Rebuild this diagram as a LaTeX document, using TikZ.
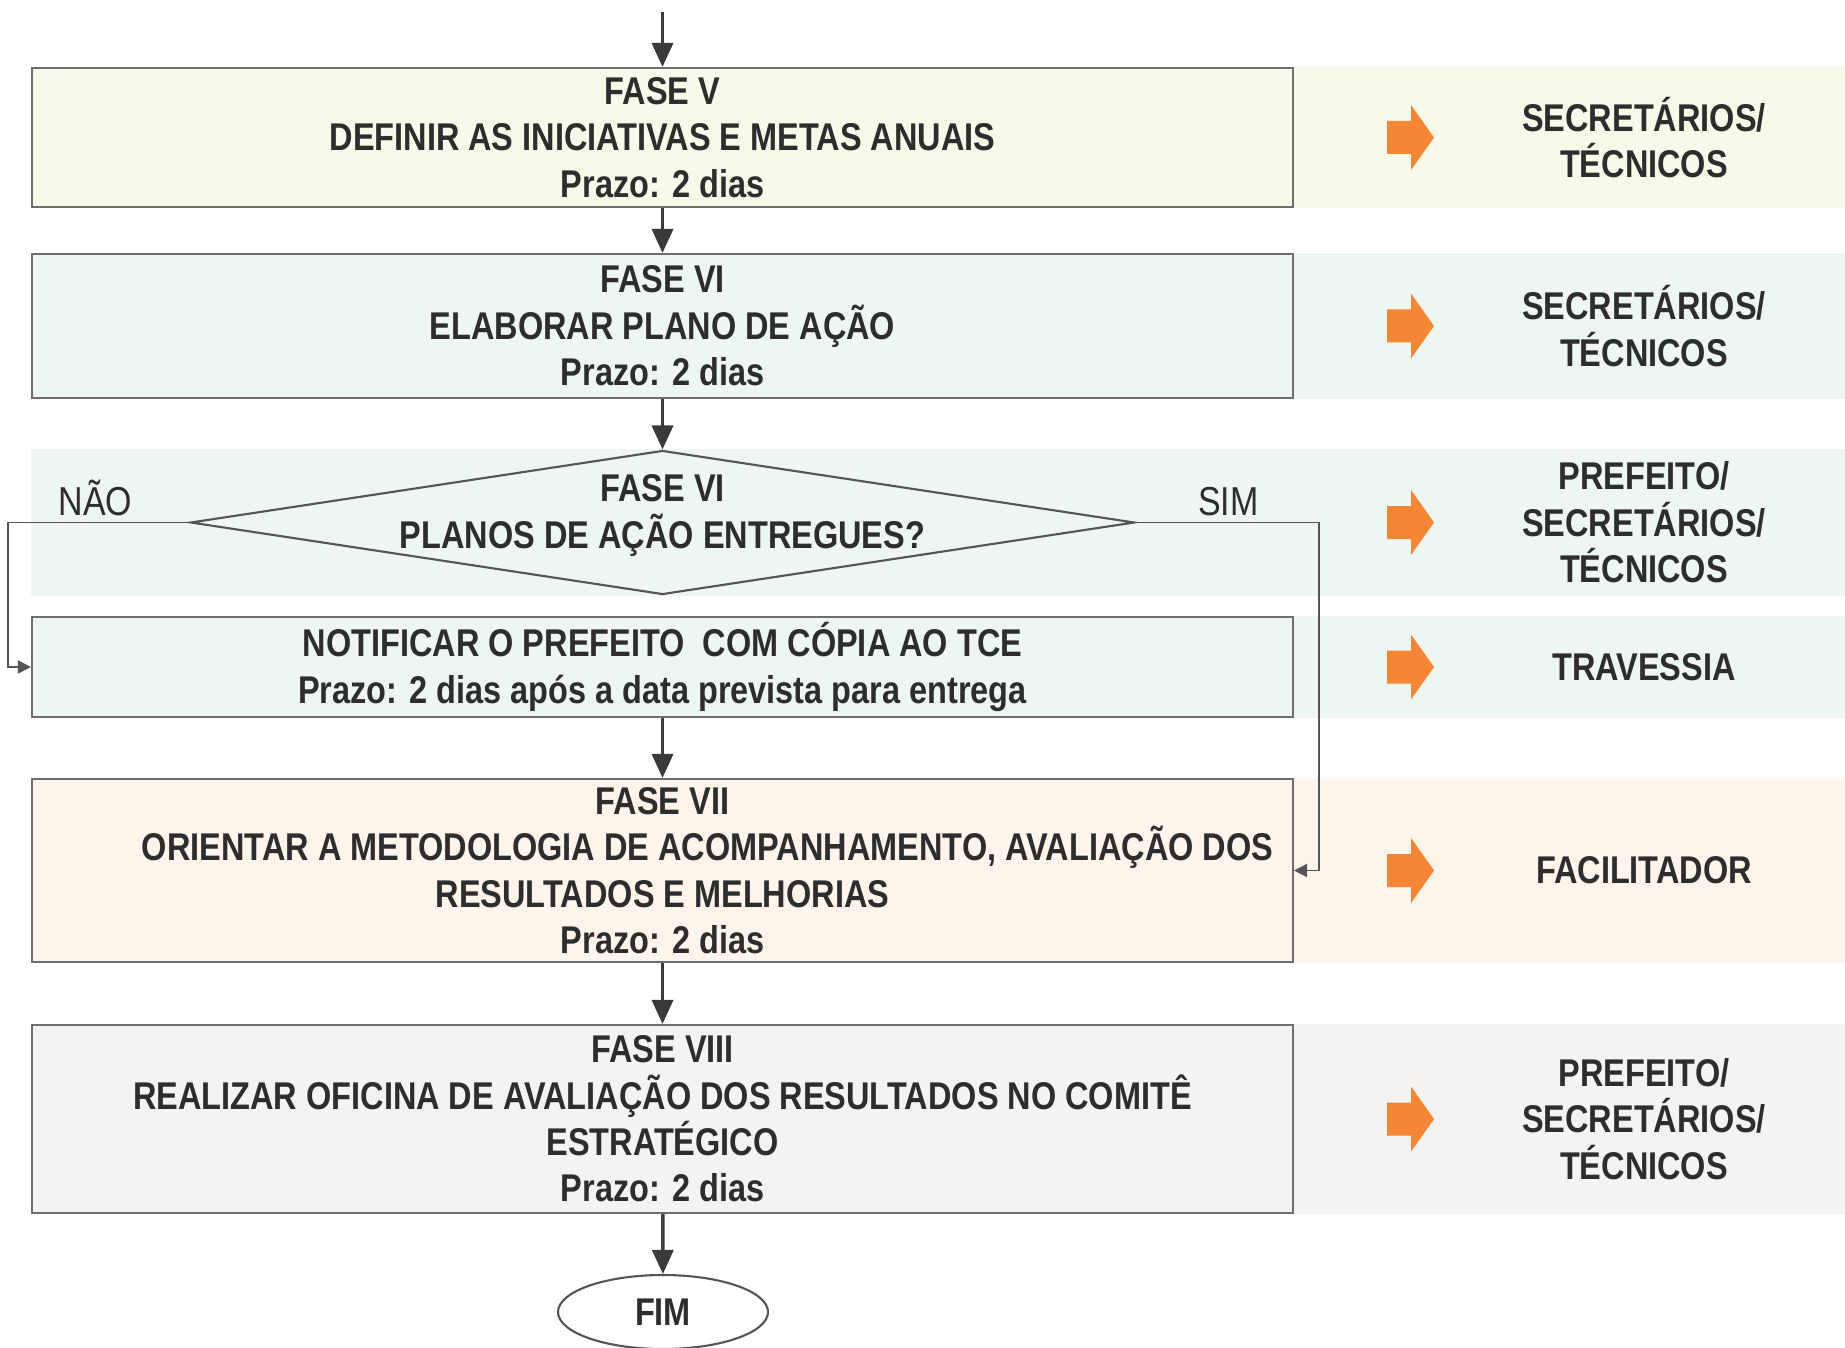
\documentclass[tikz,border=0pt]{standalone}
\usepackage{fontspec}
\setmainfont{Liberation Sans}[FakeStretch=0.84]
\usetikzlibrary{shapes.geometric,arrows.meta,backgrounds}

\definecolor{amarelo}{RGB}{248,249,232}
\definecolor{verde}{RGB}{237,246,240}
\definecolor{pessego}{RGB}{253,244,235}
\definecolor{cinza}{RGB}{244,243,241}
\definecolor{laranja}{RGB}{244,134,52}
\definecolor{texto}{RGB}{45,45,45}
\definecolor{borda}{RGB}{110,110,110}
\definecolor{linha}{RGB}{85,85,85}
\definecolor{seta}{RGB}{58,58,58}

\begin{document}
\begin{tikzpicture}[
  fase/.style = {draw=borda, line width=0.6pt, minimum width=12.61cm, inner sep=0pt,
    align=center, text=texto, font=\fontsize{11}{13.2}\selectfont\bfseries},
  pergunta/.style = {diamond, draw=linha, line width=0.6pt, fill=verde,
    minimum width=9.44cm, minimum height=1.44cm, inner sep=0pt},
  papel/.style = {align=center, text=texto, font=\fontsize{11}{13.2}\selectfont\bfseries},
  rotulo/.style = {above, inner sep=0.5mm, text=texto, font=\fontsize{11.5}{13}\selectfont},
  fluxo/.style = {draw=seta, line width=1pt, -{Triangle[length=2.4mm,width=2.1mm]}},
  desvio/.style = {draw=linha, line width=0.5pt, -{Triangle[length=1.3mm,width=1.3mm]}}]
\useasboundingbox (0,0) rectangle (18.45,13.47);

  \coordinate (inicio) at (6.625,13.35);
  \coordinate (margem) at (18.45,0);
  \coordinate (colSeta) at (13.87,0);
  \coordinate (colPapel) at (16.44,0);
  \coordinate (desvioNao) at (0.08,0);
  \coordinate (desvioSim) at (13.19,0);

  \node[fase, fill=amarelo, minimum height=1.39cm] (faseV) at (6.625,12.095)
    {FASE V\\DEFINIR AS INICIATIVAS E METAS ANUAIS\\Prazo: 2 dias};
  \node[fase, fill=verde, minimum height=1.44cm] (faseVI) at (6.625,10.21)
    {FASE VI\\ELABORAR PLANO DE AÇÃO\\Prazo: 2 dias};
  \node[pergunta, label={[align=center, yshift=0.07cm, text=texto,
      font=\fontsize{11}{13.2}\selectfont\bfseries]center:{FASE VI\\PLANOS DE AÇÃO ENTREGUES?}}]
    (decisao) at (6.625,8.245) {};
  \node[fase, fill=verde, minimum height=1.00cm] (notificar) at (6.625,6.80)
    {NOTIFICAR O PREFEITO\ \ COM CÓPIA AO TCE\\Prazo: 2 dias após a data prevista para entrega};
  \node[fase, fill=pessego, minimum height=1.83cm] (faseVII) at (6.625,4.765)
    {FASE VII\\\hspace*{0.9cm}ORIENTAR A METODOLOGIA DE ACOMPANHAMENTO, AVALIAÇÃO DOS\\RESULTADOS E MELHORIAS\\Prazo: 2 dias};
  \node[fase, fill=cinza, minimum height=1.88cm] (faseVIII) at (6.625,2.28)
    {FASE VIII\\REALIZAR OFICINA DE AVALIAÇÃO DOS RESULTADOS NO COMITÊ\\ESTRATÉGICO\\Prazo: 2 dias};
  \node[ellipse, draw=linha, line width=0.6pt, minimum width=2.1cm, minimum height=0.74cm,
    inner sep=0pt, text=texto, font=\fontsize{11}{13.2}\selectfont\bfseries] (fim) at (6.63,0.35) {FIM};

  \begin{scope}[on background layer]
    \fill[amarelo] (faseV.north east) rectangle (faseV.south -| margem);
    \fill[verde] (faseVI.north east) rectangle (faseVI.south -| margem);
    \fill[verde] (decisao.north -| faseVI.west) rectangle (decisao.south -| margem);
    \fill[verde] (notificar.north east) rectangle (notificar.south -| margem);
    \fill[pessego] (faseVII.north east) rectangle (faseVII.south -| margem);
    \fill[cinza] (faseVIII.north east) rectangle (faseVIII.south -| margem);
  \end{scope}

  \foreach \no/\txt in {faseV/{SECRETÁRIOS/\\TÉCNICOS}, faseVI/{SECRETÁRIOS/\\TÉCNICOS},
      decisao/{PREFEITO/\\SECRETÁRIOS/\\TÉCNICOS}, notificar/{TRAVESSIA},
      faseVII/{FACILITADOR}, faseVIII/{PREFEITO/\\SECRETÁRIOS/\\TÉCNICOS}} {
    \fill[laranja] (\no.center -| colSeta) ++(0,0.165) -- ++(0.24,0) -- ++(0,0.16)
      -- ++(0.23,-0.325) -- ++(-0.23,-0.325) -- ++(0,0.16) -- ++(-0.24,0) -- cycle;
    \node[papel] (papel\no) at (\no.center -| colPapel) {\txt};
  }

  \draw[fluxo] (inicio) -- (faseV);
  \draw[fluxo] (faseV) -- (faseVI);
  \draw[fluxo] (faseVI) -- (decisao);
  \draw[fluxo] (notificar) -- (faseVII);
  \draw[fluxo] (faseVII) -- (faseVIII);
  \draw[fluxo] (faseVIII) -- (fim);

  \draw[desvio] (decisao.west) -| (desvioNao |- notificar.west) -- (notificar.west);
  \draw[desvio] (decisao.east) -| (desvioSim |- faseVII.east) -- (faseVII.east);
  \node[rotulo] (nao) at (0.955,8.25) {NÃO};
  \node[rotulo] (sim) at (12.285,8.25) {SIM};
\end{tikzpicture}
\end{document}
